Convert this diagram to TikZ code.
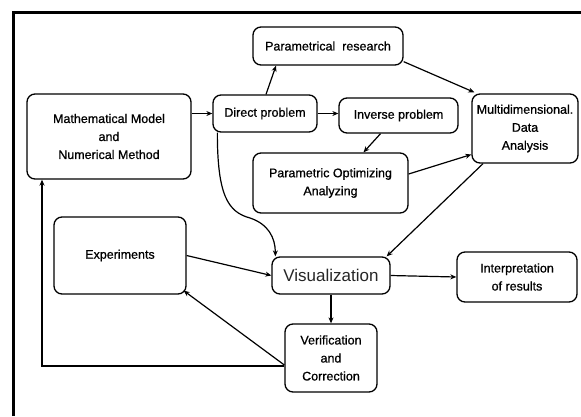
\documentclass[tikz,border=0pt]{standalone}
\usepackage{fontspec}
\setmainfont{Liberation Sans}
\newfontface\heavyface{Liberation Sans}[FakeBold=0.8]
\usetikzlibrary{arrows.meta}
\tikzset{
  box/.style={draw, line width=1.3pt, rounded corners=8pt, inner sep=0pt, align=center,
    font=\heavyface\fontsize{12.5}{18}\selectfont},
  arr/.style={line width=1.2pt, -{Stealth[length=6pt,width=5pt]}},
  frameline/.style={line width=3pt}
}
\begin{document}
\begin{tikzpicture}[x=1pt,y=-1pt]
\useasboundingbox (0,0) rectangle (581,416);
\draw[frameline] (13,416) -- (13,12) -- (581,12);

\node[box, minimum width=150pt, minimum height=38pt] (par) at (328,46) {Parametrical\ \ research};
\node[box, minimum width=104pt, minimum height=37pt] (dir) at (265,113.5) {Direct problem};
\node[box, minimum width=164pt, minimum height=85pt] (mm) at (109,136.5) {Mathematical Model\\and\\Numerical Method};
\node[box, minimum width=119pt, minimum height=35pt] (inv) at (398.5,115.5) {Inverse problem};
\node[box, minimum width=106pt, minimum height=69pt] (mda) at (525,128.5) {Multidimensional.\\Data\\Analysis};
\node[box, minimum width=155pt, minimum height=60pt] (pop) at (330.5,183) {Parametric Optimizing\\Analyzing};
\node[box, minimum width=132pt, minimum height=77pt] (exp) at (120,255.5) {Experiments};
\node[box, minimum width=118pt, minimum height=37pt, font=\fontsize{17}{20}\selectfont, text=black!85] (vis) at (331,275.5) {Visualization};
\node[box, minimum width=120pt, minimum height=50pt] (int) at (517,277) {Interpretation\\of results};
\node[box, minimum width=92pt, minimum height=68pt] (ver) at (331,358) {Verification\\and\\Correction};

\draw[arr] (dir.west -| mm.east) -- (dir.west);
\draw[arr] ([xshift=1pt]dir.north) -- ([xshift=-52pt]par.south);
\draw[arr] (dir.east) -- (dir.east -| inv.west);
\draw[arr] ([yshift=4pt]par.south east) -- ([xshift=3pt,yshift=1pt]mda.north west);
\draw[arr] ([xshift=-18pt]inv.south) -- ([xshift=33pt]pop.north);
\draw[arr] ([yshift=9pt]pop.east) -- ([yshift=-26pt]mda.west);
\draw[arr] ([xshift=-42pt]mda.south) -- ([xshift=-4pt]vis.north east);
\draw[arr] ([xshift=5pt]dir.south west) .. controls +(0,63) and +(-22,-6) .. (250,218)
  .. controls +(18,6) and +(0,-19) .. ([xshift=4pt]vis.north west);
\draw[arr] (exp.east) -- (vis.west);
\draw[arr] (vis.east) -- (int.west);
\draw[arr] (vis.south) -- (ver.north);
\draw[arr] ([yshift=-7pt]ver.west) -- ([xshift=-3pt,yshift=4pt]exp.south east);
\draw[arr] ([yshift=-8pt]ver.west) -| ([xshift=-67pt]mm.south);
\end{tikzpicture}
\end{document}
